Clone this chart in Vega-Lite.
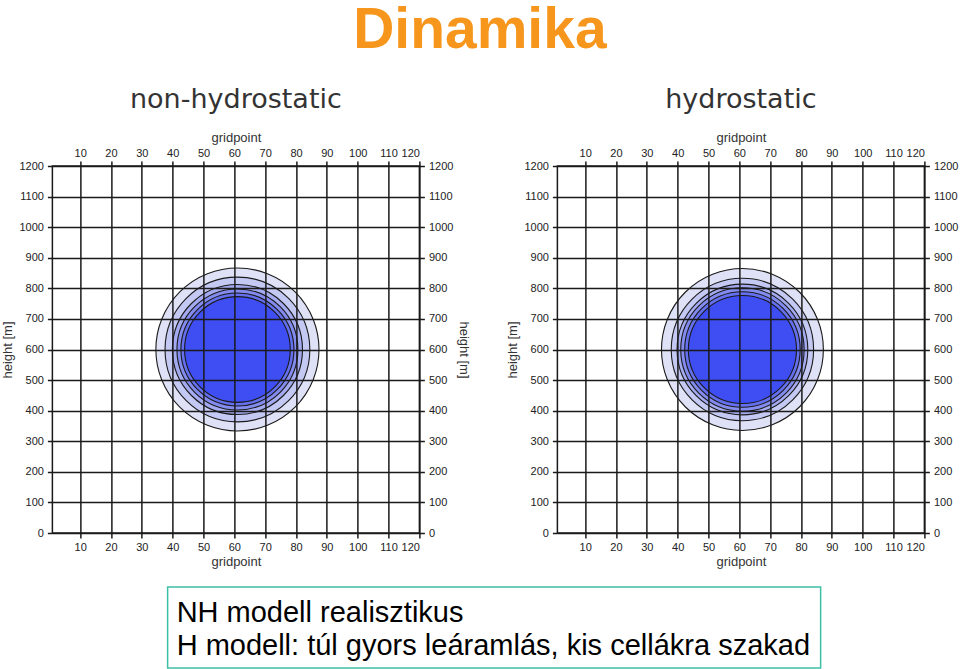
{
  "$schema": "https://vega.github.io/schema/vega-lite/v6.json",
  "background": "white",
  "padding": {"left": 1, "top": 2, "right": 0, "bottom": 0},
  "title": {"text": "Dinamika", "fontSize": 57, "font": "Liberation Sans", "fontWeight": "bold", "color": "#f7961c", "anchor": "middle", "frame": "bounds", "offset": 25},
  "datasets": {
    "nh": [
      {"gridpoint": 61, "height": 600, "radius": 267, "contour": 1},
      {"gridpoint": 61, "height": 600, "radius": 237, "contour": 2},
      {"gridpoint": 61, "height": 600, "radius": 213, "contour": 3},
      {"gridpoint": 61, "height": 600, "radius": 198, "contour": 4},
      {"gridpoint": 61, "height": 600, "radius": 185, "contour": 5},
      {"gridpoint": 61, "height": 600, "radius": 173, "contour": 6}
    ],
    "h": [
      {"gridpoint": 61, "height": 600, "radius": 265, "contour": 1},
      {"gridpoint": 61, "height": 600, "radius": 233, "contour": 2},
      {"gridpoint": 61, "height": 600, "radius": 214, "contour": 3},
      {"gridpoint": 61, "height": 600, "radius": 202, "contour": 4},
      {"gridpoint": 61, "height": 600, "radius": 189, "contour": 5},
      {"gridpoint": 61, "height": 600, "radius": 177, "contour": 6}
    ],
    "notes": [
      {"line": 1, "text": "NH modell realisztikus"},
      {"line": 2, "text": "H modell: túl gyors leáramlás, kis cellákra szakad"}
    ]
  },
  "config": {
    "font": "Liberation Sans",
    "view": {"stroke": "#1a1a1a", "strokeWidth": 1.5},
    "axis": {"grid": false, "domain": false, "tickColor": "#1a1a1a", "tickWidth": 1.5, "tickSize": 5, "labelFontSize": 11, "labelColor": "#222222", "titleFontSize": 13, "titleFontWeight": "normal", "titleColor": "#333333", "gridColor": "#1a1a1a", "gridWidth": 1.5, "gridOpacity": 1, "format": "d"},
    "axisX": {"labelPadding": 3, "titlePadding": 3},
    "axisY": {"labelPadding": 4, "titlePadding": 4}
  },
  "center": true,
  "spacing": 17,
  "vconcat": [
    {
      "bounds": "flush",
      "spacing": 138,
      "hconcat": [
        {
          "width": 367, "height": 367,
          "title": {"text": "non-hydrostatic", "font": "DejaVu Sans", "fontSize": 27, "fontWeight": "normal", "color": "#333333", "offset": 17},
          "data": {"name": "nh"},
          "resolve": {"axis": {"x": "independent", "y": "independent"}},
          "layer": [
            {
              "mark": {"type": "point", "shape": "circle", "filled": true, "opacity": 1, "stroke": "#1a1a1a", "strokeWidth": 1.1},
              "encoding": {
                "x": {"field": "gridpoint", "type": "quantitative", "scale": {"domain": [1, 120], "nice": false, "zero": false}, "axis": {"orient": "bottom", "title": "gridpoint", "values": [10,20,30,40,50,60,70,80,90,100,110,120], "grid": true, "zindex": 1}},
                "y": {"field": "height", "type": "quantitative", "scale": {"domain": [0, 1200], "nice": false}, "axis": {"orient": "left", "title": "height [m]", "values": [0,100,200,300,400,500,600,700,800,900,1000,1100,1200], "grid": true, "zindex": 1}},
                "size": {"field": "radius", "type": "quantitative", "scale": {"type": "pow", "exponent": 2, "domain": [0, 1000], "range": [0, 373300], "zero": true}, "legend": null},
                "color": {"field": "contour", "type": "ordinal", "scale": {"domain": [1,2,3,4,5,6], "range": ["#dfe2f7", "#c4c9f3", "#a3aaf0", "#838cee", "#6470ef", "#3e4ef3"]}, "legend": null},
                "order": {"field": "contour", "type": "quantitative"}
              }
            },
            {
              "mark": {"type": "point", "opacity": 0},
              "encoding": {
                "x": {"field": "gridpoint", "type": "quantitative", "axis": {"orient": "top", "title": "gridpoint", "values": [10,20,30,40,50,60,70,80,90,100,110,120]}},
                "y": {"field": "height", "type": "quantitative", "axis": {"orient": "right", "title": "height [m]", "values": [0,100,200,300,400,500,600,700,800,900,1000,1100,1200]}}
              }
            }
          ]
        },
        {
          "width": 367, "height": 367,
          "title": {"text": "hydrostatic", "font": "DejaVu Sans", "fontSize": 27, "fontWeight": "normal", "color": "#333333", "offset": 17},
          "data": {"name": "h"},
          "resolve": {"axis": {"x": "independent", "y": "independent"}},
          "layer": [
            {
              "mark": {"type": "point", "shape": "circle", "filled": true, "opacity": 1, "stroke": "#1a1a1a", "strokeWidth": 1.1},
              "encoding": {
                "x": {"field": "gridpoint", "type": "quantitative", "scale": {"domain": [1, 120], "nice": false, "zero": false}, "axis": {"orient": "bottom", "title": "gridpoint", "values": [10,20,30,40,50,60,70,80,90,100,110,120], "grid": true, "zindex": 1}},
                "y": {"field": "height", "type": "quantitative", "scale": {"domain": [0, 1200], "nice": false}, "axis": {"orient": "left", "title": "height [m]", "values": [0,100,200,300,400,500,600,700,800,900,1000,1100,1200], "grid": true, "zindex": 1}},
                "size": {"field": "radius", "type": "quantitative", "scale": {"type": "pow", "exponent": 2, "domain": [0, 1000], "range": [0, 373300], "zero": true}, "legend": null},
                "color": {"field": "contour", "type": "ordinal", "scale": {"domain": [1,2,3,4,5,6], "range": ["#dfe2f7", "#c4c9f3", "#a3aaf0", "#838cee", "#6470ef", "#3e4ef3"]}, "legend": null},
                "order": {"field": "contour", "type": "quantitative"}
              }
            },
            {
              "mark": {"type": "point", "opacity": 0},
              "encoding": {
                "x": {"field": "gridpoint", "type": "quantitative", "axis": {"orient": "top", "title": "gridpoint", "values": [10,20,30,40,50,60,70,80,90,100,110,120]}},
                "y": {"field": "height", "type": "quantitative", "axis": {"orient": "right", "title": null, "values": [0,100,200,300,400,500,600,700,800,900,1000,1100,1200]}}
              }
            }
          ]
        }
      ]
    },
    {
      "width": 653, "height": 81,
      "view": {"stroke": "#3dbfa5", "strokeWidth": 1.5, "fill": "white"},
      "data": {"name": "notes"},
      "mark": {"type": "text", "align": "left", "baseline": "middle", "fontSize": 29, "font": "Liberation Sans", "color": "#000000", "dx": 9, "dy": 2},
      "encoding": {
        "x": {"datum": 0, "type": "quantitative", "scale": {"domain": [0, 1]}, "axis": null},
        "y": {"field": "line", "type": "ordinal", "scale": {"type": "point", "padding": 0.75}, "axis": {"orient": "right", "labels": false, "ticks": true, "tickColor": "transparent", "tickSize": 1, "domain": false, "title": null, "grid": false, "minExtent": 22, "maxExtent": 22}},
        "text": {"field": "text"}
      }
    }
  ]
}
